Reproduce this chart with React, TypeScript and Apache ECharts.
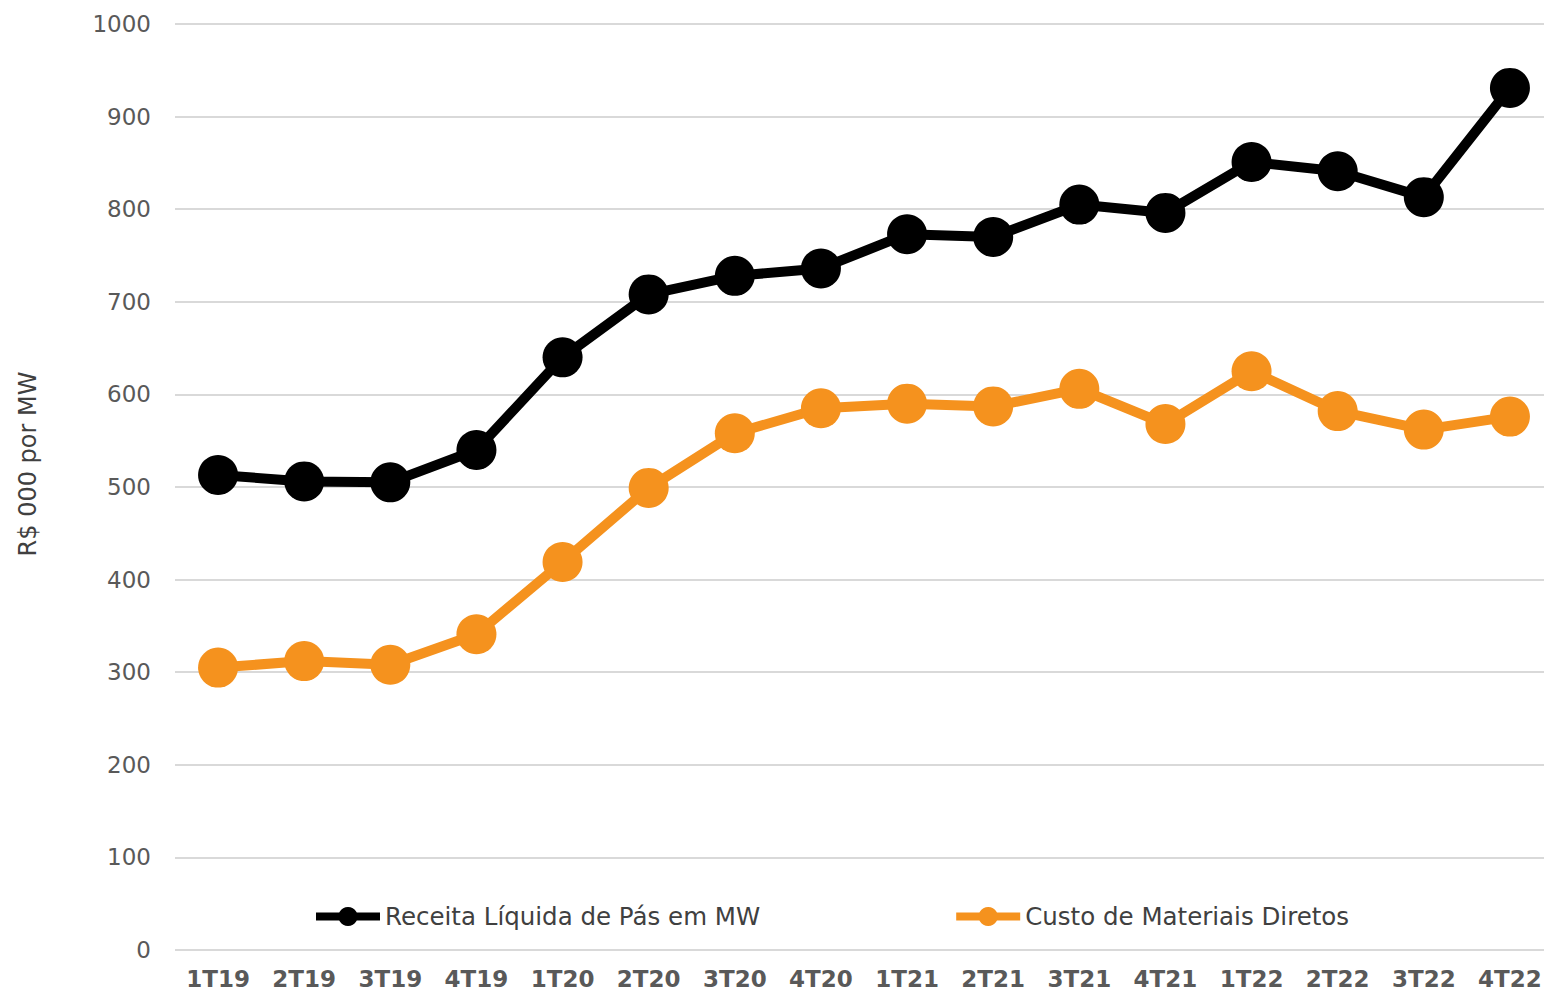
import React, { useEffect, useRef } from "react";
import * as echarts from "echarts";

const categories = ["1T19","2T19","3T19","4T19","1T20","2T20","3T20","4T20","1T21","2T21","3T21","4T21","1T22","2T22","3T22","4T22"];
const receita = [513, 506, 505, 540, 640, 708, 728, 736, 773, 770, 805, 796, 851, 841, 813, 931];
const custo = [305, 312, 308, 341, 419, 499, 558, 585, 590, 587, 606, 568, 625, 582, 562, 576];
const yTitle = "R$ 000 por MW";
const nameReceita = "Receita Líquida de Pás em MW";
const nameCusto = "Custo de Materiais Diretos";

const FONT = "'DejaVu Sans', Verdana, sans-serif";

export default function App() {
  const ref = useRef<HTMLDivElement>(null);
  useEffect(() => {
    if (!ref.current) return;
    const chart = echarts.init(ref.current, undefined, { renderer: "svg" });
    chart.setOption({
      animation: false,
      backgroundColor: "#ffffff",
      grid: { left: 175, right: 0, top: 24, bottom: 43 },
      legend: {
        left: 312,
        top: 904,
        padding: 0,
        itemWidth: 64,
        itemHeight: 24,
        itemGap: 192,
        lineStyle: { width: 8 },
        textStyle: { fontFamily: FONT, fontSize: 24.5, color: "#404040" },
        data: [nameReceita, nameCusto],
      },
      xAxis: {
        type: "category",
        data: categories,
        boundaryGap: true,
        axisLine: { show: false },
        axisTick: { show: false },
        axisLabel: { fontFamily: FONT, fontSize: 23, fontWeight: "bold", color: "#595959", margin: 17 },
      },
      yAxis: {
        type: "value",
        min: 0,
        max: 1000,
        interval: 100,
        axisLine: { show: false },
        axisTick: { show: false },
        axisLabel: {
          fontFamily: FONT,
          fontSize: 23,
          color: "#595959",
          margin: 24,
          formatter: (v: number) => String(v),
        },
        splitLine: { lineStyle: { color: "#d9d9d9", width: 2 } },
      },
      graphic: [
        {
          type: "text",
          x: 28,
          y: 464,
          rotation: Math.PI / 2,
          style: {
            text: yTitle,
            fontFamily: FONT,
            fontSize: 24,
            fill: "#404040",
            align: "center",
            verticalAlign: "middle",
          },
        },
      ],
      series: [
        {
          name: nameReceita,
          type: "line",
          data: receita,
          symbol: "circle",
          symbolSize: 40,
          lineStyle: { color: "#000000", width: 10 },
          itemStyle: { color: "#000000" },
        },
        {
          name: nameCusto,
          type: "line",
          data: custo,
          symbol: "circle",
          symbolSize: 40,
          lineStyle: { color: "#F5921E", width: 10 },
          itemStyle: { color: "#F5921E" },
        },
      ],
    });
    return () => chart.dispose();
  }, []);
  return (
    <div style={{ position: "fixed", left: 0, top: 0, width: 1544, height: 993, overflow: "hidden", background: "#fff" }}>
      <div ref={ref} style={{ position: "absolute", left: 0, top: 0, width: 1553, height: 993 }} />
    </div>
  );
}
